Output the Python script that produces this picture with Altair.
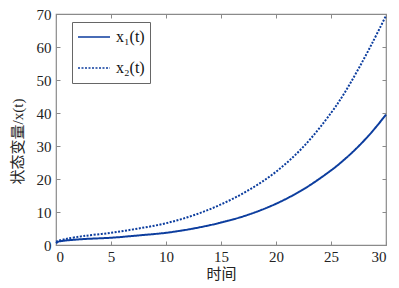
import altair as alt
import pandas as pd

t = [0, 0.2, 0.5, 1, 2.5, 5, 7.5, 10, 12.5, 15, 17.5, 20, 22.5, 25, 26.25, 27.5, 28.75, 30]
x1 = [0.5, 1.0, 1.2, 1.4, 1.8, 2.2, 2.9, 3.7, 5.0, 6.8, 9.2, 12.5, 16.9, 22.6, 26.0, 29.9, 34.4, 39.5]
x2 = [1.0, 1.3, 1.5, 1.9, 2.7, 3.7, 5.0, 6.6, 9.0, 12.3, 16.6, 22.2, 29.8, 40.0, 46.2, 53.4, 61.2, 69.5]
series = ["x₁(t)", "x₂(t)"]
x_ticks = [0, 5, 10, 15, 20, 25, 30]
y_ticks = [0, 10, 20, 30, 40, 50, 60, 70]

rows = []
for name, vals in zip(series, [x1, x2]):
    for ti, v in zip(t, vals):
        rows.append({"t": ti, "v": v, "s": name})
df = pd.DataFrame(rows)

LINE = "#0c3d9e"
AX = "#8a8a8a"
SERIF = "'Liberation Serif', 'Times New Roman', serif"
TITLEFONT = "'Liberation Serif', 'Noto Sans CJK SC'"

xscale = alt.Scale(domain=[0, 30], nice=False)
yscale = alt.Scale(domain=[0, 70], nice=False)

common_axis = dict(grid=False, domain=False, tickSize=4, offset=-4, tickColor=AX,
                   labelFont=SERIF, labelFontSize=15, labelColor="#222",
                   titleFont=TITLEFONT, titleFontSize=15, titleColor="#222",
                   titleFontWeight="normal")

legend_opts = dict(title=None, orient="none", legendX=16, legendY=8,
                   symbolType="stroke", symbolSize=1024, symbolStrokeWidth=1.6,
                   labelFont=SERIF, labelFontSize=16, labelColor="#111",
                   labelOffset=5, rowPadding=11, padding=5, clipHeight=20,
                   strokeColor="#666", fillColor="white")

lines = alt.Chart(df).mark_line(strokeWidth=2, interpolate="catmull-rom").encode(
    x=alt.X("t:Q", scale=xscale,
            axis=alt.Axis(values=x_ticks, title="时间", labelPadding=4, titlePadding=2,
                          **common_axis)),
    y=alt.Y("v:Q", scale=yscale,
            axis=alt.Axis(values=y_ticks, title="状态变量/x(t)", labelPadding=5,
                          titleX=-43, titleY=127, titleBaseline="middle",
                          titleAlign="center", titleAngle=270,
                          **common_axis)),
    color=alt.Color("s:N", scale=alt.Scale(domain=series, range=[LINE, LINE]),
                    legend=alt.Legend(**legend_opts)),
    strokeDash=alt.StrokeDash("s:N", scale=alt.Scale(domain=series, range=[[1, 0], [2, 1.5]]),
                              legend=alt.Legend(**legend_opts)),
)

frame_axes = alt.Chart(df).mark_line(opacity=0).encode(
    x=alt.X("t:Q", scale=xscale,
            axis=alt.Axis(orient="top", values=x_ticks, labels=False, title=None,
                          grid=False, domain=False, tickSize=4, offset=-4, tickColor=AX)),
    y=alt.Y("v:Q", scale=yscale,
            axis=alt.Axis(orient="right", values=y_ticks, labels=False, title=None,
                          grid=False, domain=False, tickSize=4, offset=-4, tickColor=AX)),
    detail="s:N",
)

chart = alt.layer(lines, frame_axes).resolve_axis(
    x="independent", y="independent"
).properties(
    width=330, height=231,
    autosize=alt.AutoSizeParams(type="none"),
    padding={"left": 56, "top": 14, "right": 13, "bottom": 43},
    background="white",
).configure_view(stroke=AX, strokeWidth=1.2).configure_axis(
    labelFont=SERIF, labelFontSize=15
)

chart.save("out.html", embed_options={"renderer": "svg", "actions": False})
